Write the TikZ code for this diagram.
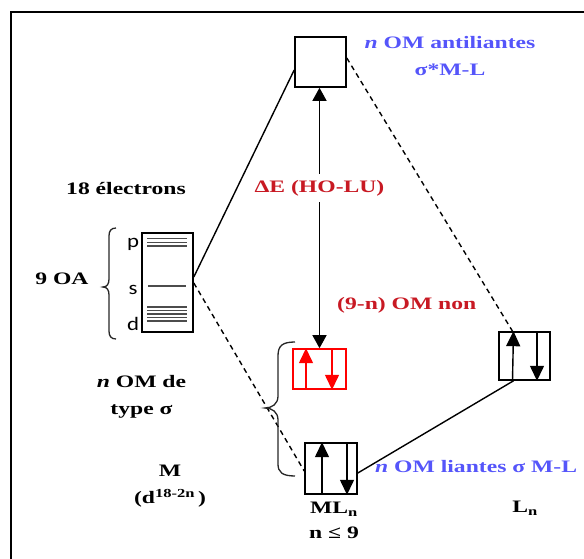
\documentclass[tikz,border=0pt]{standalone}
\usepackage{fontspec}
\setmainfont{Liberation Serif}[FakeStretch=1.35]
\newfontfamily\orbfont{Carlito}[FakeStretch=1.2]
\usetikzlibrary{arrows.meta,positioning}
\definecolor{omblue}{RGB}{85,85,250}
\definecolor{omred}{RGB}{200,25,35}

\begin{document}
\begin{tikzpicture}[
  x=1pt, y=-1pt,
  every node/.style={font=\fontsize{17.5}{27}\selectfont\bfseries, inner sep=0pt},
  orb/.style={draw, line width=1.6pt, inner sep=0pt},
  spin/.style={line width=1.4pt, -{Triangle[width=14pt,length=15pt]}},
  lvl/.style={line width=1.1pt, black!70},
  link/.style={line width=1.4pt},
  nonlink/.style={line width=1.4pt, dash pattern=on 5pt off 4pt},
  brc/.style={line width=1.3pt, black!85}
]
\useasboundingbox (0,0) rectangle (584,559);
\draw[line width=1.8pt] (11,559) -- (11,12) -- (584,12);

% boxes
\node[orb, minimum width=51pt, minimum height=50pt] (anti) at (320.5,62) {};
\node[orb, minimum width=51pt, minimum height=99pt] (metal) at (167.5,282.5) {};
\node[orb, draw=red, minimum width=53pt, minimum height=40pt] (nonb) at (319.5,369) {};
\node[orb, minimum width=52pt, minimum height=51pt] (ml) at (331,468.5) {};
\node[orb, minimum width=51pt, minimum height=48pt] (lig) at (524.5,356) {};

% levels of the metal
\foreach \y in {238.5,242.3,246} \draw[lvl] (147,\y) -- (187,\y);
\draw[lvl] (148,286) -- (186,286);
\foreach \y in {307,310.5,314,317.5,321} \draw[lvl] (147,\y) -- (187,\y);
\node[font=\fontsize{19}{20}\selectfont\orbfont] (lp) at (133,244) {p};
\node[font=\fontsize{19}{20}\selectfont\orbfont] (ls) at (133,290) {s};
\node[font=\fontsize{19}{20}\selectfont\orbfont] (ld) at (133,324) {d};
\draw[brc] (116,228) .. controls (111,228) and (109,231) .. (109,236) -- (109,279)
  .. controls (109,284) and (107,287) .. (103,287) .. controls (107,287) and (109,290) .. (109,295)
  -- (109,331) .. controls (109,336) and (111,339) .. (116,339);

% electrons
\draw[spin] ([xshift=-9pt]ml.south) -- ([xshift=-9pt]ml.north);
\draw[spin] ([xshift=16pt]ml.north) -- ([xshift=16pt]ml.south);
\draw[spin] ([xshift=-12pt]lig.south) -- ([xshift=-11pt]lig.north);
\draw[spin] ([xshift=12.5pt]lig.north) -- ([xshift=12.5pt]lig.south);
\draw[spin, red] ([xshift=-13.5pt]nonb.south) -- ([xshift=-13.5pt]nonb.north);
\draw[spin, red] ([xshift=12.5pt]nonb.north) -- ([xshift=12.5pt]nonb.south);

% correlations
\draw[link] ([yshift=5.5pt]metal.east) -- ([yshift=-8pt]anti.west);
\draw[nonlink] ([yshift=-0.5pt]metal.east) -- ([yshift=-2.5pt]ml.west);
\draw[nonlink] ([yshift=4pt]anti.east) -- ([xshift=-12pt]lig.north);
\draw[link] ([xshift=-11pt]lig.south) -- ([yshift=-4.5pt]ml.east);
\draw[brc] (295,342) .. controls (282,342) and (278,346) .. (278,356) -- (278,396)
  .. controls (278,404) and (272,408) .. (265,408) .. controls (272,408) and (278,412) .. (278,420)
  -- (278,464) .. controls (278,472) and (282,476) .. (295,476);

% gap
\draw[line width=1.4pt, {Triangle[width=14pt,length=13pt]}-{Triangle[width=14pt,length=13pt]}]
  ([xshift=-1pt]anti.south) -- ([xshift=-1pt]anti.south |- nonb.north)
  node[pos=0.385, fill=white, inner xsep=2pt, inner ysep=6pt, text=omred] (gap) {ΔE (HO-LU)};

% labels
\node[text=omblue, align=center] (antilbl) at (450,56) {\textit{n} OM antiliantes\\σ*M-L};
\node (elec) at (126,189) {18 électrons};
\node (oa) at (62,279) {9 OA};
\node[text=omred, anchor=west] (nonlbl) at (337,305) {(9-n) OM non};
\node[align=center] (sigma) at (141.5,396.5) {\textit{n} OM de\\type σ};
\node[align=center] (mlbl) at (170,486) {M\\(d\textsuperscript{18-2n}\,)};
\node[align=center, font=\fontsize{17.5}{25}\selectfont\bfseries] (mllbl) at (334,520.5) {ML\textsubscript{n}\\n ≤ 9};
\node[text=omblue, anchor=west] (lianlbl) at (375,467) {\textit{n} OM liantes σ M-L};
\node (llbl) at (525,508) {L\textsubscript{n}};
\end{tikzpicture}
\end{document}
